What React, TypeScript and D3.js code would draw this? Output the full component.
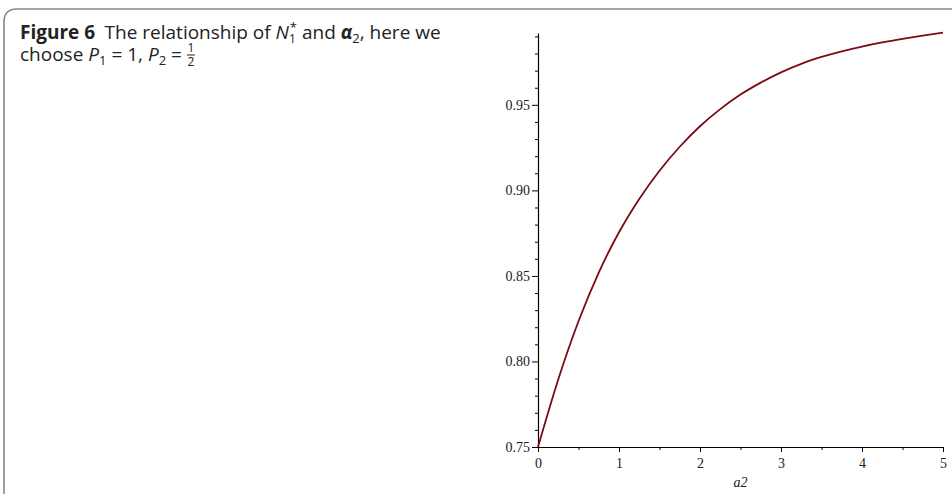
import React, { useEffect, useRef } from 'react';
import * as d3 from 'd3';

// alpha2 values and the N1* value
const alpha2 = [0, 0.25, 0.5, 0.75, 1, 1.25, 1.5, 1.75, 2, 2.25, 2.5, 2.75, 3, 3.25, 3.5, 3.75, 4, 4.25, 4.5, 4.75, 5];
const nStar = [0.75, 0.7895, 0.8235, 0.852, 0.8755, 0.895, 0.9115, 0.9255, 0.9375, 0.9475, 0.956, 0.963, 0.969, 0.974, 0.978, 0.9813, 0.9841, 0.9865, 0.9886, 0.9905, 0.9922];

const xTicks = [0, 1, 2, 3, 4, 5];
const xMinor = [0.5, 1.5, 2.5, 3.5, 4.5];
const yTicks = [0.75, 0.8, 0.85, 0.9, 0.95];
const yMinor = [0.76, 0.77, 0.78, 0.79, 0.81, 0.82, 0.83, 0.84, 0.86, 0.87, 0.88, 0.89, 0.91, 0.92, 0.93, 0.94, 0.96, 0.97, 0.98, 0.99];

const W = 952;
const H = 496;

const App = () => {
  const svgRef = useRef<SVGSVGElement>(null);
  const line2Ref = useRef<SVGTextElement>(null);
  const fracRef = useRef<SVGGElement>(null);

  useEffect(() => {
    const svg = d3.select(svgRef.current);
    svg.selectAll('.plot').remove();

    // put the 1/2 fraction right after the second caption line
    if (line2Ref.current && fracRef.current) {
      const w = line2Ref.current.getComputedTextLength();
      d3.select(fracRef.current).attr('transform', `translate(${20 + w + 5},0)`);
    }

    const g = svg.append('g').attr('class', 'plot');

    const x = d3.scaleLinear().domain([0, 5]).range([538, 943]);
    const y = d3.scaleLinear().domain([0.75, 0.992]).range([447, 33]);

    const serif = '"Liberation Serif", "Times New Roman", serif';

    // y axis
    const ya = g.append('g')
      .attr('transform', 'translate(538,0)')
      .call(d3.axisLeft(y).tickValues(yTicks).tickSize(6).tickSizeOuter(0).tickPadding(2).tickFormat(d3.format('.2f')));
    ya.append('g').call(d3.axisLeft(y).tickValues(yMinor).tickSize(3).tickFormat(() => '')).select('.domain').remove();

    // x axis
    const xa = g.append('g')
      .attr('transform', 'translate(0,447)')
      .call(d3.axisBottom(x).tickValues(xTicks).tickSize(5).tickSizeOuter(0).tickPadding(6).tickFormat(d3.format('d')));
    xa.append('g').call(d3.axisBottom(x).tickValues(xMinor).tickSize(3).tickFormat(() => '')).select('.domain').remove();

    g.selectAll('.domain').attr('stroke', '#000').attr('stroke-width', 1.2);
    g.selectAll('.tick line').attr('stroke', '#000');
    g.selectAll('.tick text')
      .attr('font-family', serif)
      .attr('font-size', 14)
      .attr('fill', '#222');

    g.append('text')
      .attr('x', x(2.5))
      .attr('y', 487)
      .attr('text-anchor', 'middle')
      .attr('font-family', serif)
      .attr('font-style', 'italic')
      .attr('font-size', 14)
      .attr('fill', '#222')
      .text('a2');

    const line = d3.line<number>()
      .x((d, i) => x(alpha2[i]))
      .y(d => y(d))
      .curve(d3.curveMonotoneX);

    g.append('path')
      .datum(nStar)
      .attr('d', line)
      .attr('fill', 'none')
      .attr('stroke', '#7b0a16')
      .attr('stroke-width', 1.8);
  }, []);

  const sans = '"Open Sans", "Noto Sans", sans-serif';

  return (
    <svg ref={svgRef} width={W} height={H} style={{ position: 'absolute', left: 0, top: 0, background: '#fff' }}>
      {/* caption frame */}
      <path d={`M4,${H - 2} L4,22 Q4,9 17,9 L${W},9`} fill="none" stroke="#888" strokeWidth={1.6} />
      <text x={20} y={39} fontFamily={sans} fontSize={19} fill="#222">
        <tspan fontWeight="bold">Figure 6</tspan>
        <tspan>{'\u2002The relationship of '}</tspan>
        <tspan fontStyle="italic">N</tspan>
        <tspan fontSize={12} dy={4}>1</tspan>
        <tspan fontSize={13} dx={-6} dy={-11}>*</tspan>
        <tspan dy={7}>{' and '}</tspan>
        <tspan fontStyle="italic" fontWeight="bold">{'\u03b1'}</tspan>
        <tspan fontSize={13} dy={4}>2</tspan>
        <tspan dy={-4}>, here we</tspan>
      </text>
      <text ref={line2Ref} x={20} y={61} fontFamily={sans} fontSize={19} fill="#222">
        <tspan>choose </tspan>
        <tspan fontStyle="italic">P</tspan>
        <tspan fontSize={13} dy={4}>1</tspan>
        <tspan dy={-4}>{' = 1, '}</tspan>
        <tspan fontStyle="italic">P</tspan>
        <tspan fontSize={13} dy={4}>2</tspan>
        <tspan dy={-4}>{' ='}</tspan>
      </text>
      <g ref={fracRef}>
        <text x={4} y={52} fontFamily={sans} fontSize={12} fill="#222" textAnchor="middle">1</text>
        <line x1={0} x2={8} y1={55} y2={55} stroke="#222" strokeWidth={1} />
        <text x={4} y={66} fontFamily={sans} fontSize={12} fill="#222" textAnchor="middle">2</text>
      </g>
    </svg>
  );
};

export default App;
